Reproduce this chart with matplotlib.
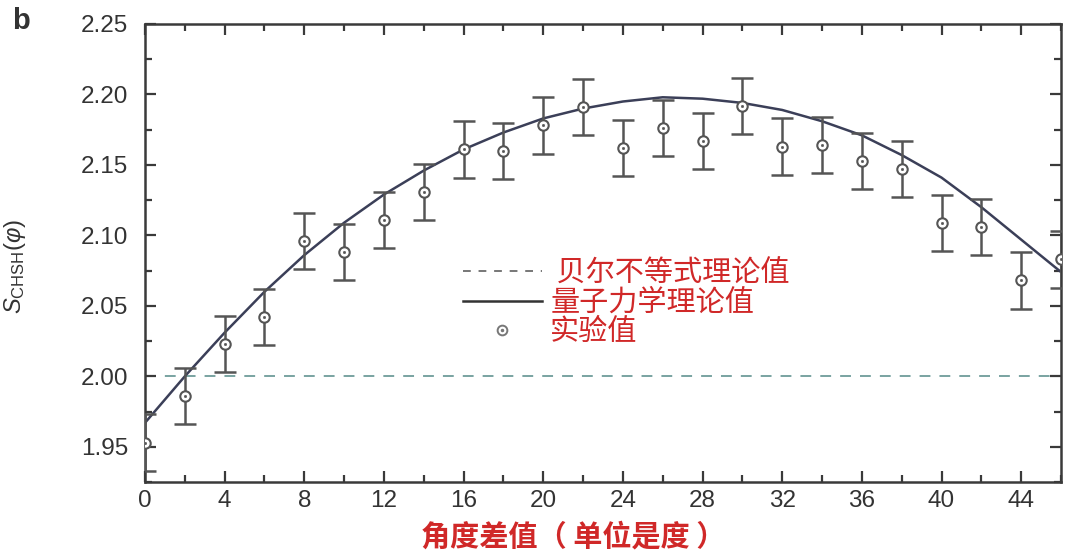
import matplotlib
matplotlib.use("Agg")
import matplotlib.pyplot as plt
from matplotlib.ticker import MultipleLocator, FixedLocator
from matplotlib.legend_handler import HandlerTuple
from matplotlib.lines import Line2D

# ---------------- data ----------------
angle = [0, 2, 4, 6, 8, 10, 12, 14, 16, 18, 20, 22, 24, 26, 28, 30,
         32, 34, 36, 38, 40, 42, 44, 46]
s_measured = [1.953, 1.986, 2.023, 2.042, 2.096, 2.088, 2.111, 2.131, 2.161,
              2.160, 2.178, 2.191, 2.162, 2.176, 2.167, 2.192, 2.163, 2.164,
              2.153, 2.147, 2.109, 2.106, 2.068, 2.083]
s_error = [0.02] * 24
s_theory = [1.967, 2.000, 2.031, 2.060, 2.086, 2.109, 2.129, 2.146, 2.161,
            2.173, 2.183, 2.190, 2.195, 2.198, 2.197, 2.194, 2.189, 2.181,
            2.171, 2.157, 2.141, 2.120, 2.097, 2.074]
bell_limit = 2.0

x_ticks = [0, 4, 8, 12, 16, 20, 24, 28, 32, 36, 40, 44]
y_ticks = [1.95, 2.00, 2.05, 2.10, 2.15, 2.20, 2.25]

label_bell = " 贝尔不等式理论值"
label_qm = "量子力学理论值"
label_exp = "实验值"
x_label = "角度差值（ 单位是度 ）"
y_label = r"$S_{\mathrm{CHSH}}(\varphi)$"
panel = "b"

# ---------------- style ----------------
plt.rcParams["font.family"] = ["Liberation Sans", "DejaVu Sans"]
plt.rcParams["mathtext.fontset"] = "custom"
plt.rcParams["mathtext.rm"] = "Liberation Sans"
plt.rcParams["mathtext.it"] = "Liberation Sans:italic"
cjk = ["Noto Sans CJK SC", "DejaVu Sans"]

spine_c = "#3a3a3a"
tick_c = "#3a3a3a"
pt_c = "#555555"
curve_c = "#3b3f58"
dash_c = "#6e9c9a"
red = "#d02828"

fig = plt.figure(figsize=(10.8, 5.57), dpi=100)
ax = fig.add_axes([145 / 1080, 75 / 557, 916 / 1080, 458 / 557])

# Bell limit
ax.axhline(bell_limit, color=dash_c, lw=1.3, ls=(0, (6, 5)), zorder=1)
# theory
ax.plot(angle, s_theory, color=curve_c, lw=1.8, zorder=2, solid_capstyle="butt")
# experiment
ax.errorbar(angle, s_measured, yerr=s_error, fmt="none", ecolor=pt_c,
            elinewidth=1.8, capsize=8, capthick=1.8, zorder=3)
ax.plot(angle, s_measured, ls="none", marker="o", ms=7.5, mfc="white",
        mec=pt_c, mew=1.5, zorder=4)
ax.plot(angle, s_measured, ls="none", marker="o", ms=1.6, mfc=pt_c,
        mec=pt_c, mew=0.5, zorder=5)

ax.set_xlim(0, 46)
ax.set_ylim(1.925, 2.25)
ax.xaxis.set_major_locator(FixedLocator(x_ticks))
ax.xaxis.set_minor_locator(MultipleLocator(2))
ax.yaxis.set_major_locator(FixedLocator(y_ticks))
ax.yaxis.set_minor_locator(MultipleLocator(0.025))
ax.set_yticklabels([f"{v:.2f}" for v in y_ticks])
ax.set_xticklabels([str(v) for v in x_ticks])

for s in ax.spines.values():
    s.set_color(spine_c)
    s.set_linewidth(1.8)

ax.tick_params(which="both", direction="in", top=True, right=True,
               color=tick_c, width=1.6)
ax.tick_params(which="major", length=8)
ax.tick_params(which="minor", length=5)
ax.tick_params(axis="y", which="major", pad=12, labelsize=17.5, labelcolor="#333333")
ax.tick_params(axis="x", which="major", pad=6, labelsize=17.5, labelcolor="#333333")

ax.set_xlabel(x_label, family=cjk, fontsize=21, fontweight="bold", color=red)
ax.xaxis.set_label_coords(0.467, -0.087)
ax.set_ylabel(y_label, fontsize=17, color="#333333")
ax.yaxis.set_label_coords(-0.128, 0.47)

fig.text(0.011, 0.962, panel, fontsize=21, fontweight="bold", color="#333333",
         ha="left", va="center")

# legend
h_bell = Line2D([], [], color="#777777", lw=1.4, ls=(0, (4, 4)))
h_qm = Line2D([], [], color="#333333", lw=1.8)
h_exp = (Line2D([], [], ls="none", marker="o", ms=7, mfc="white", mec="#777777", mew=1.4),
         Line2D([], [], ls="none", marker="o", ms=1.5, mfc="#777777", mec="#777777"))
leg = ax.legend([h_bell, h_qm, h_exp], [label_bell, label_qm, label_exp],
                handler_map={tuple: HandlerTuple(ndivide=1, pad=0)},
                loc="upper left", bbox_to_anchor=(0.331, 0.52), frameon=False,
                prop={"family": cjk, "size": 21}, handlelength=2.7,
                handletextpad=0.3, labelspacing=-0.02, borderpad=0)
for t in leg.get_texts():
    t.set_color(red)

fig.savefig("out.png", dpi=100, facecolor="white")
